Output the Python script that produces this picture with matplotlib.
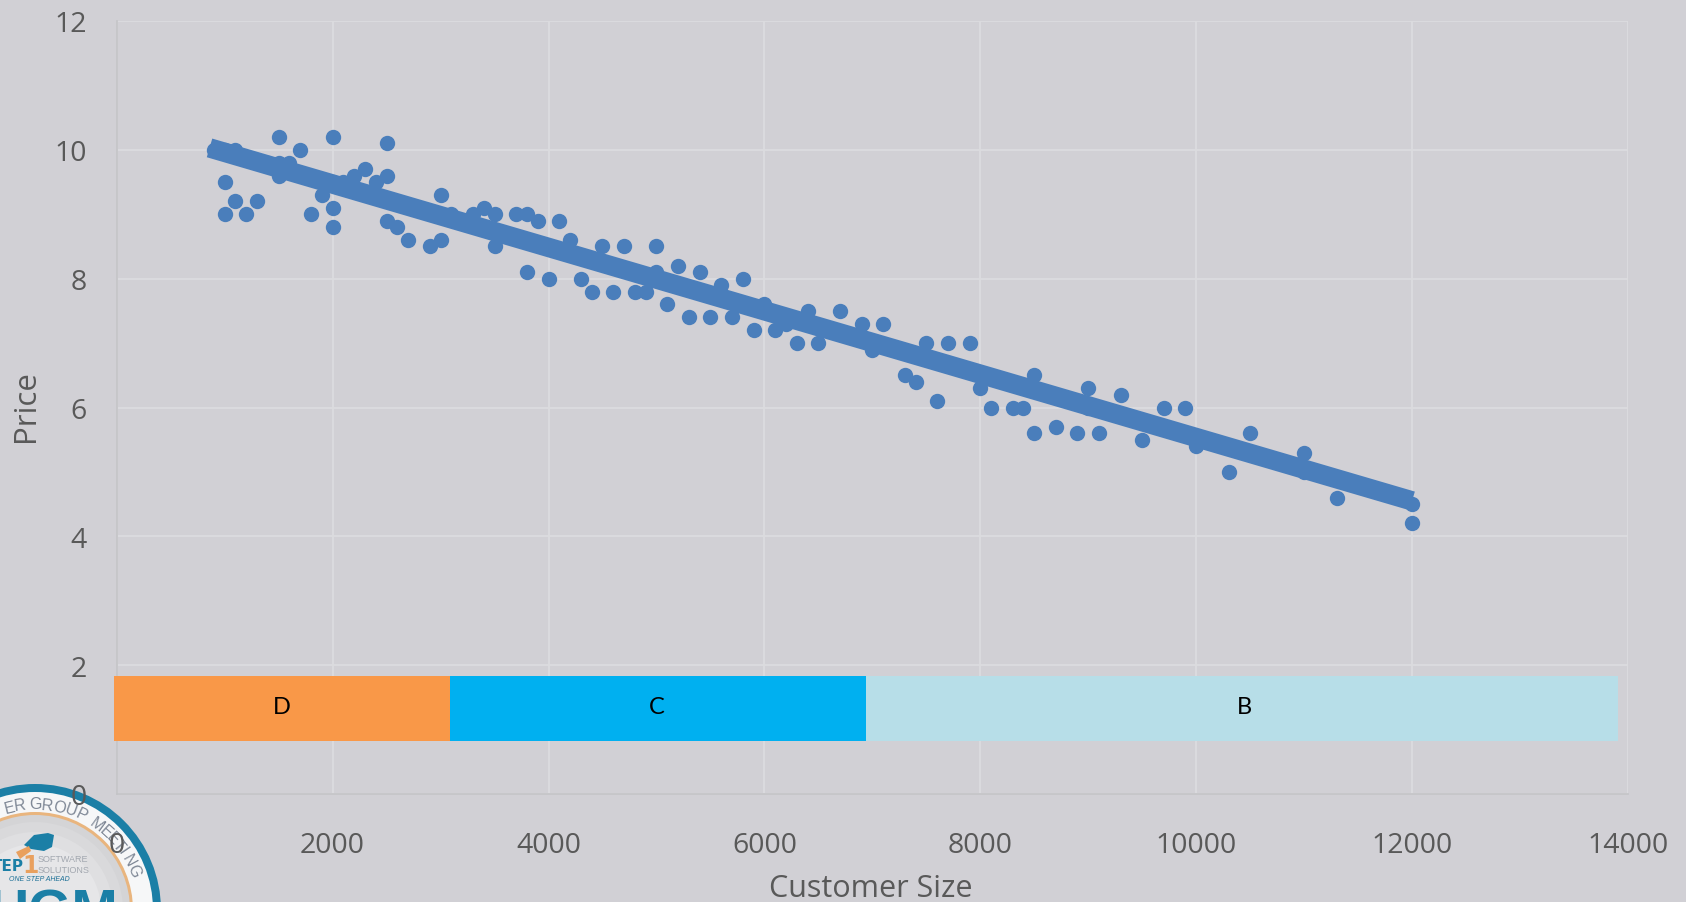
#!/usr/bin/env python3
# -*- coding: utf-8 -*-
import numpy as np
import matplotlib
matplotlib.use('Agg')
import matplotlib.pyplot as plt
from matplotlib.patches import Circle, Polygon

customer_size = [900, 1000, 1100, 1000, 1100, 1000, 1200, 1300, 1400, 1500,
                 1500, 1500, 1600, 1700, 1800, 1900, 2000, 2000, 2000, 2000,
                 2100, 2200, 2300, 2400, 2500, 2500, 2500, 2600, 2700, 2900,
                 3000, 3000, 3100, 3300, 3400, 3500, 3500, 3700, 3800, 3800,
                 3900, 4000, 4100, 4200, 4300, 4400, 4500, 4600, 4700, 4800,
                 4900, 5000, 5000, 5100, 5200, 5300, 5400, 5500, 5600, 5700,
                 5800, 5900, 6000, 6100, 6200, 6300, 6400, 6500, 6700, 6900,
                 7000, 7100, 7300, 7400, 7500, 7600, 7700, 7900, 8000, 8100,
                 8300, 8400, 8500, 8500, 8700, 8900, 9000, 9000, 9100, 9300,
                 9500, 9700, 9900, 10000, 10300, 10500, 11000, 11000, 11300,
                 12000, 12000]
price = [10.0, 10.0, 10.0, 9.5, 9.2, 9.0, 9.0, 9.2, 9.8, 10.2,
         9.8, 9.6, 9.8, 10.0, 9.0, 9.3, 10.2, 9.5, 9.1, 8.8,
         9.5, 9.6, 9.7, 9.5, 10.1, 9.6, 8.9, 8.8, 8.6, 8.5,
         9.3, 8.6, 9.0, 9.0, 9.1, 9.0, 8.5, 9.0, 9.0, 8.1,
         8.9, 8.0, 8.9, 8.6, 8.0, 7.8, 8.5, 7.8, 8.5, 7.8,
         7.8, 8.5, 8.1, 7.6, 8.2, 7.4, 8.1, 7.4, 7.9, 7.4,
         8.0, 7.2, 7.6, 7.2, 7.3, 7.0, 7.5, 7.0, 7.5, 7.3,
         6.9, 7.3, 6.5, 6.4, 7.0, 6.1, 7.0, 7.0, 6.3, 6.0,
         6.0, 6.0, 6.5, 5.6, 5.7, 5.6, 6.3, 6.0, 5.6, 6.2,
         5.5, 6.0, 6.0, 5.4, 5.0, 5.6, 5.3, 5.0, 4.6,
         4.5, 4.2]
trend_x = [860, 12000]
trend_y = [10.03, 4.55]

band_labels = ['D', 'C', 'B']
band_left = [-25, 3088, 6942]
band_right = [3088, 6942, 13907]
band_label_x = [1530, 5000, 10450]
band_colors = ['#F99848', '#00B0F0', '#B7DEE8']
band_bottom = 0.82
band_top = 1.83

x_ticks = [0, 2000, 4000, 6000, 8000, 10000, 12000, 14000]
y_ticks = [0, 2, 4, 6, 8, 10, 12]

# visible part of the logo ring text and where each letter sits (degrees)
arc_letters = list('ERGROUPMEETING')
arc_angles = [104, 98, 90, 83.5, 77, 70.5, 64, 54, 48, 43, 38, 34, 28.5, 22]

BG = '#D1D0D5'
BLUE = '#4A7EBB'
GRID = '#DCDCDF'
TXT = '#595959'
W, H = 1686, 903

plt.rcParams['font.family'] = ['Open Sans', 'DejaVu Sans']
fig = plt.figure(figsize=(W/100, H/100), dpi=100, facecolor=BG)

# logo sits under the chart, drawn in pixel coordinates
lg = fig.add_axes([0, 0, 1, 1], zorder=0)
lg.set_xlim(0, W)
lg.set_ylim(H, 0)
lg.axis('off')
cx, cy = 35, 911
lg.add_patch(Circle((cx, cy), 126, fc='#1B7FA6', ec='none'))
lg.add_patch(Circle((cx, cy), 118, fc='#F6F7F8', ec='none'))
lg.add_patch(Circle((cx, cy), 98, fc='#E9B57E', ec='none'))
lg.add_patch(Circle((cx, cy), 95, fc='#D4D4D6', ec='none'))
for r, c in zip([88, 78, 66], ['#D9D9DB', '#DFDFE1', '#E6E6E8']):
    lg.add_patch(Circle((cx, cy), r, fc=c, ec='none'))
for ch, ang in zip(arc_letters, arc_angles):
    lg.text(cx + 106*np.cos(np.radians(ang)), cy - 106*np.sin(np.radians(ang)),
            ch, rotation=ang-90, rotation_mode='anchor', ha='center',
            va='center', fontsize=11.5, color='#7F8896', family='Liberation Sans')
lg.add_patch(Polygon([[24, 846], [34, 836], [48, 834], [54, 836], [52, 848],
                      [44, 852], [31, 850]], fc='#1B7FA6', ec='none'))
lg.add_patch(Polygon([[16, 853], [29, 847], [31, 852], [20, 860]],
                     fc='#E9A05E', ec='none'))
lg.text(24, 867, 'TEP', ha='right', va='center', fontsize=11, weight='bold',
        color='#1B7FA6', family='Liberation Sans Narrow')
lg.text(31, 866, '1', ha='center', va='center', fontsize=17, weight='bold',
        color='#E9A05E', family='Liberation Sans Narrow')
lg.text(38, 860, 'SOFTWARE', ha='left', va='center', fontsize=6.5,
        color='#A3A8B0', family='Liberation Sans')
lg.text(38, 871, 'SOLUTIONS', ha='left', va='center', fontsize=6.5,
        color='#A3A8B0', family='Liberation Sans')
lg.text(39, 880, 'ONE STEP AHEAD', ha='center', va='center', fontsize=5,
        style='italic', color='#1B6F96', family='Liberation Sans')
lg.text(118, 889, 'UGM', ha='right', va='top', fontsize=40, weight='bold',
        color='#1B7FA6', family='Liberation Sans')

ax = fig.add_axes([116.7/W, (H-795)/H, (1628-116.7)/W, (795-22)/H], zorder=1)
ax.patch.set_visible(False)
ax.set_xlim(0, 14000)
ax.set_ylim(0, 12)
ax.grid(True, color=GRID, lw=1.3, zorder=0)
ax.set_axisbelow(True)

ax.scatter(customer_size, price, s=122, color=BLUE, linewidths=0, zorder=3)
ax.plot(trend_x, trend_y, color=BLUE, lw=14, solid_capstyle='butt', zorder=4)

for lab, l, r, lx, c in zip(band_labels, band_left, band_right, band_label_x,
                            band_colors):
    ax.barh((band_bottom+band_top)/2, r-l, height=band_top-band_bottom, left=l,
            color=c, linewidth=0, clip_on=False, zorder=5)
    ax.text(lx, (band_bottom+band_top)/2 + 0.04, lab, ha='center',
            va='center', fontsize=17, color='black', family='Lato', zorder=6)

ax.set_xticks(x_ticks)
ax.set_yticks(y_ticks)
ax.tick_params(length=0, labelsize=20.5, labelcolor=TXT)
ax.tick_params(axis='x', pad=27)
ax.tick_params(axis='y', pad=21.5)
for s in ['top', 'right']:
    ax.spines[s].set_visible(False)
for s in ['left', 'bottom']:
    ax.spines[s].set_color('#C4C4C7')
    ax.spines[s].set_linewidth(1.2)

fig.text(871/W, 1-889/H, 'Customer Size', ha='center', va='center',
         fontsize=22, color=TXT)
fig.text(26/W, 1-406/H, 'Price', ha='center', va='center', rotation=90,
         fontsize=22.5, color=TXT)

fig.savefig('out.png', dpi=100, facecolor=BG)
